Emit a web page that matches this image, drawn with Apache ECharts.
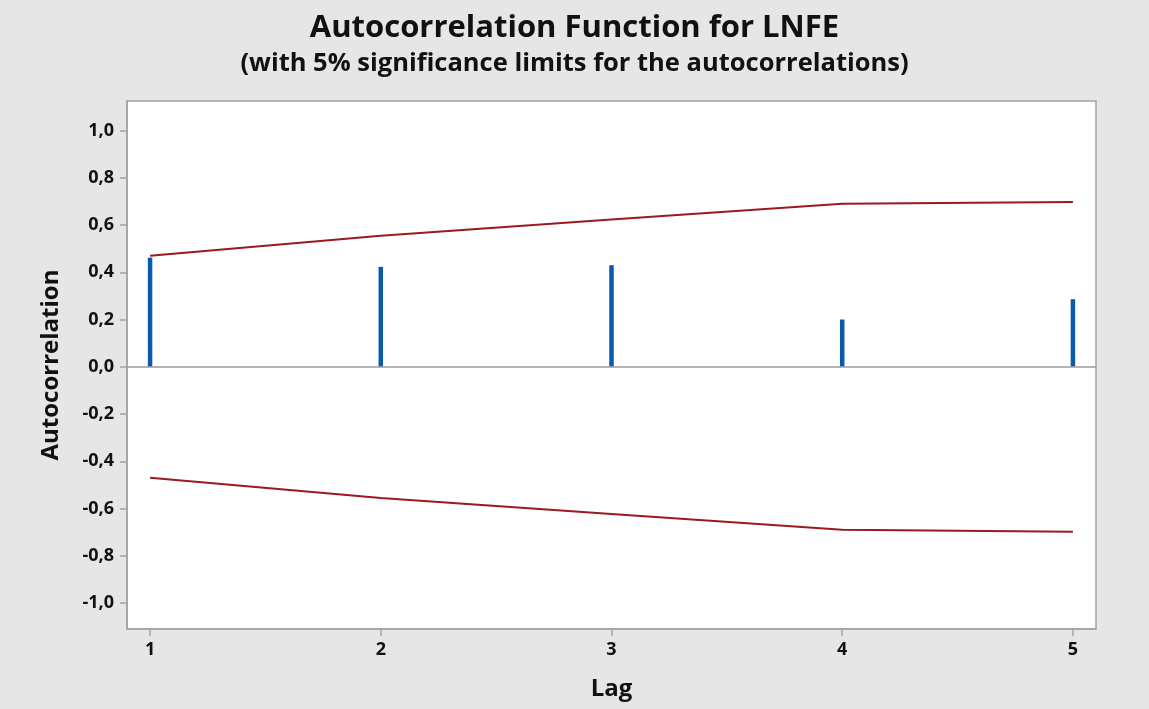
<!DOCTYPE html>
<html>
<head>
<meta charset="utf-8">
<script src="https://cdn.jsdelivr.net/npm/echarts@6/dist/echarts.min.js"></script>
<style>
  html, body { margin: 0; padding: 0; background: #e6e6e6; }
  #chart { width: 1149px; height: 709px; }
</style>
</head>
<body>
<div id="chart"></div>
<script>
// Autocorrelation at each lag
const lags = [1, 2, 3, 4, 5];
const acf = [0.462, 0.423, 0.430, 0.200, 0.286];
// 5% significance limits
const upperLimit = [0.470, 0.555, 0.623, 0.690, 0.698];
const lowerLimit = [-0.470, -0.555, -0.623, -0.690, -0.698];
// Axis tick values
const yTicks = [-1.0, -0.8, -0.6, -0.4, -0.2, 0.0, 0.2, 0.4, 0.6, 0.8, 1.0];
const xTicks = [1, 2, 3, 4, 5];

const FONT = '"Open Sans", "Noto Sans", sans-serif';
const AXIS_GRAY = '#a3a3a3';
const fmtComma = v => v.toFixed(1).replace('.', ',');

const chart = echarts.init(document.getElementById('chart'));
chart.setOption({
  backgroundColor: '#e6e6e6',
  animation: false,
  title: [
    {
      text: 'Autocorrelation Function for LNFE',
      left: 'center', top: 8,
      textStyle: { fontFamily: FONT, fontSize: 31, fontWeight: 'bold', color: '#111' }
    },
    {
      text: '(with 5% significance limits for the autocorrelations)',
      left: 'center', top: 46,
      textStyle: { fontFamily: FONT, fontSize: 25.5, fontWeight: 'bold', color: '#111' }
    }
  ],
  grid: {
    left: 127, right: 53, top: 101, bottom: 80,
    show: true, backgroundColor: '#ffffff', borderColor: AXIS_GRAY, borderWidth: 1.5
  },
  xAxis: {
    type: 'value', min: 0.9, max: 5.1,
    name: 'Lag', nameLocation: 'middle', nameGap: 48,
    nameTextStyle: { fontFamily: FONT, fontSize: 24, fontWeight: 'bold', color: '#111' },
    axisLine: { show: true, onZero: false, lineStyle: { color: AXIS_GRAY, width: 1.5 } },
    axisTick: { show: true, length: 7, customValues: xTicks, lineStyle: { color: AXIS_GRAY, width: 1.5 } },
    axisLabel: {
      customValues: xTicks, margin: 12,
      fontFamily: FONT, fontSize: 18, fontWeight: 'bold', color: '#111',
      formatter: v => String(v)
    },
    splitLine: { show: false }
  },
  yAxis: {
    type: 'value', min: -1.11, max: 1.125,
    name: 'Autocorrelation', nameLocation: 'middle', nameGap: 64,
    nameTextStyle: { fontFamily: FONT, fontSize: 24, fontWeight: 'bold', color: '#111' },
    axisLine: { show: true, onZero: false, lineStyle: { color: AXIS_GRAY, width: 1.5 } },
    axisTick: { show: true, length: 7, customValues: yTicks, lineStyle: { color: AXIS_GRAY, width: 1.5 } },
    axisLabel: {
      customValues: yTicks, margin: 13,
      fontFamily: FONT, fontSize: 18, fontWeight: 'bold', color: '#111',
      formatter: fmtComma
    },
    splitLine: { show: false }
  },
  series: [
    {
      type: 'bar',
      data: lags.map((l, i) => [l, acf[i]]),
      barWidth: 4.5,
      itemStyle: { color: '#0a5bad' },
      markLine: {
        silent: true, symbol: 'none', label: { show: false },
        lineStyle: { color: '#9b9b9b', type: 'solid', width: 1.5 },
        data: [{ yAxis: 0 }]
      },
      z: 3
    },
    {
      type: 'line',
      data: lags.map((l, i) => [l, upperLimit[i]]),
      symbol: 'none',
      lineStyle: { color: '#9a1b1f', width: 2 },
      z: 4
    },
    {
      type: 'line',
      data: lags.map((l, i) => [l, lowerLimit[i]]),
      symbol: 'none',
      lineStyle: { color: '#9a1b1f', width: 2 },
      z: 4
    }
  ]
});
</script>
</body>
</html>
